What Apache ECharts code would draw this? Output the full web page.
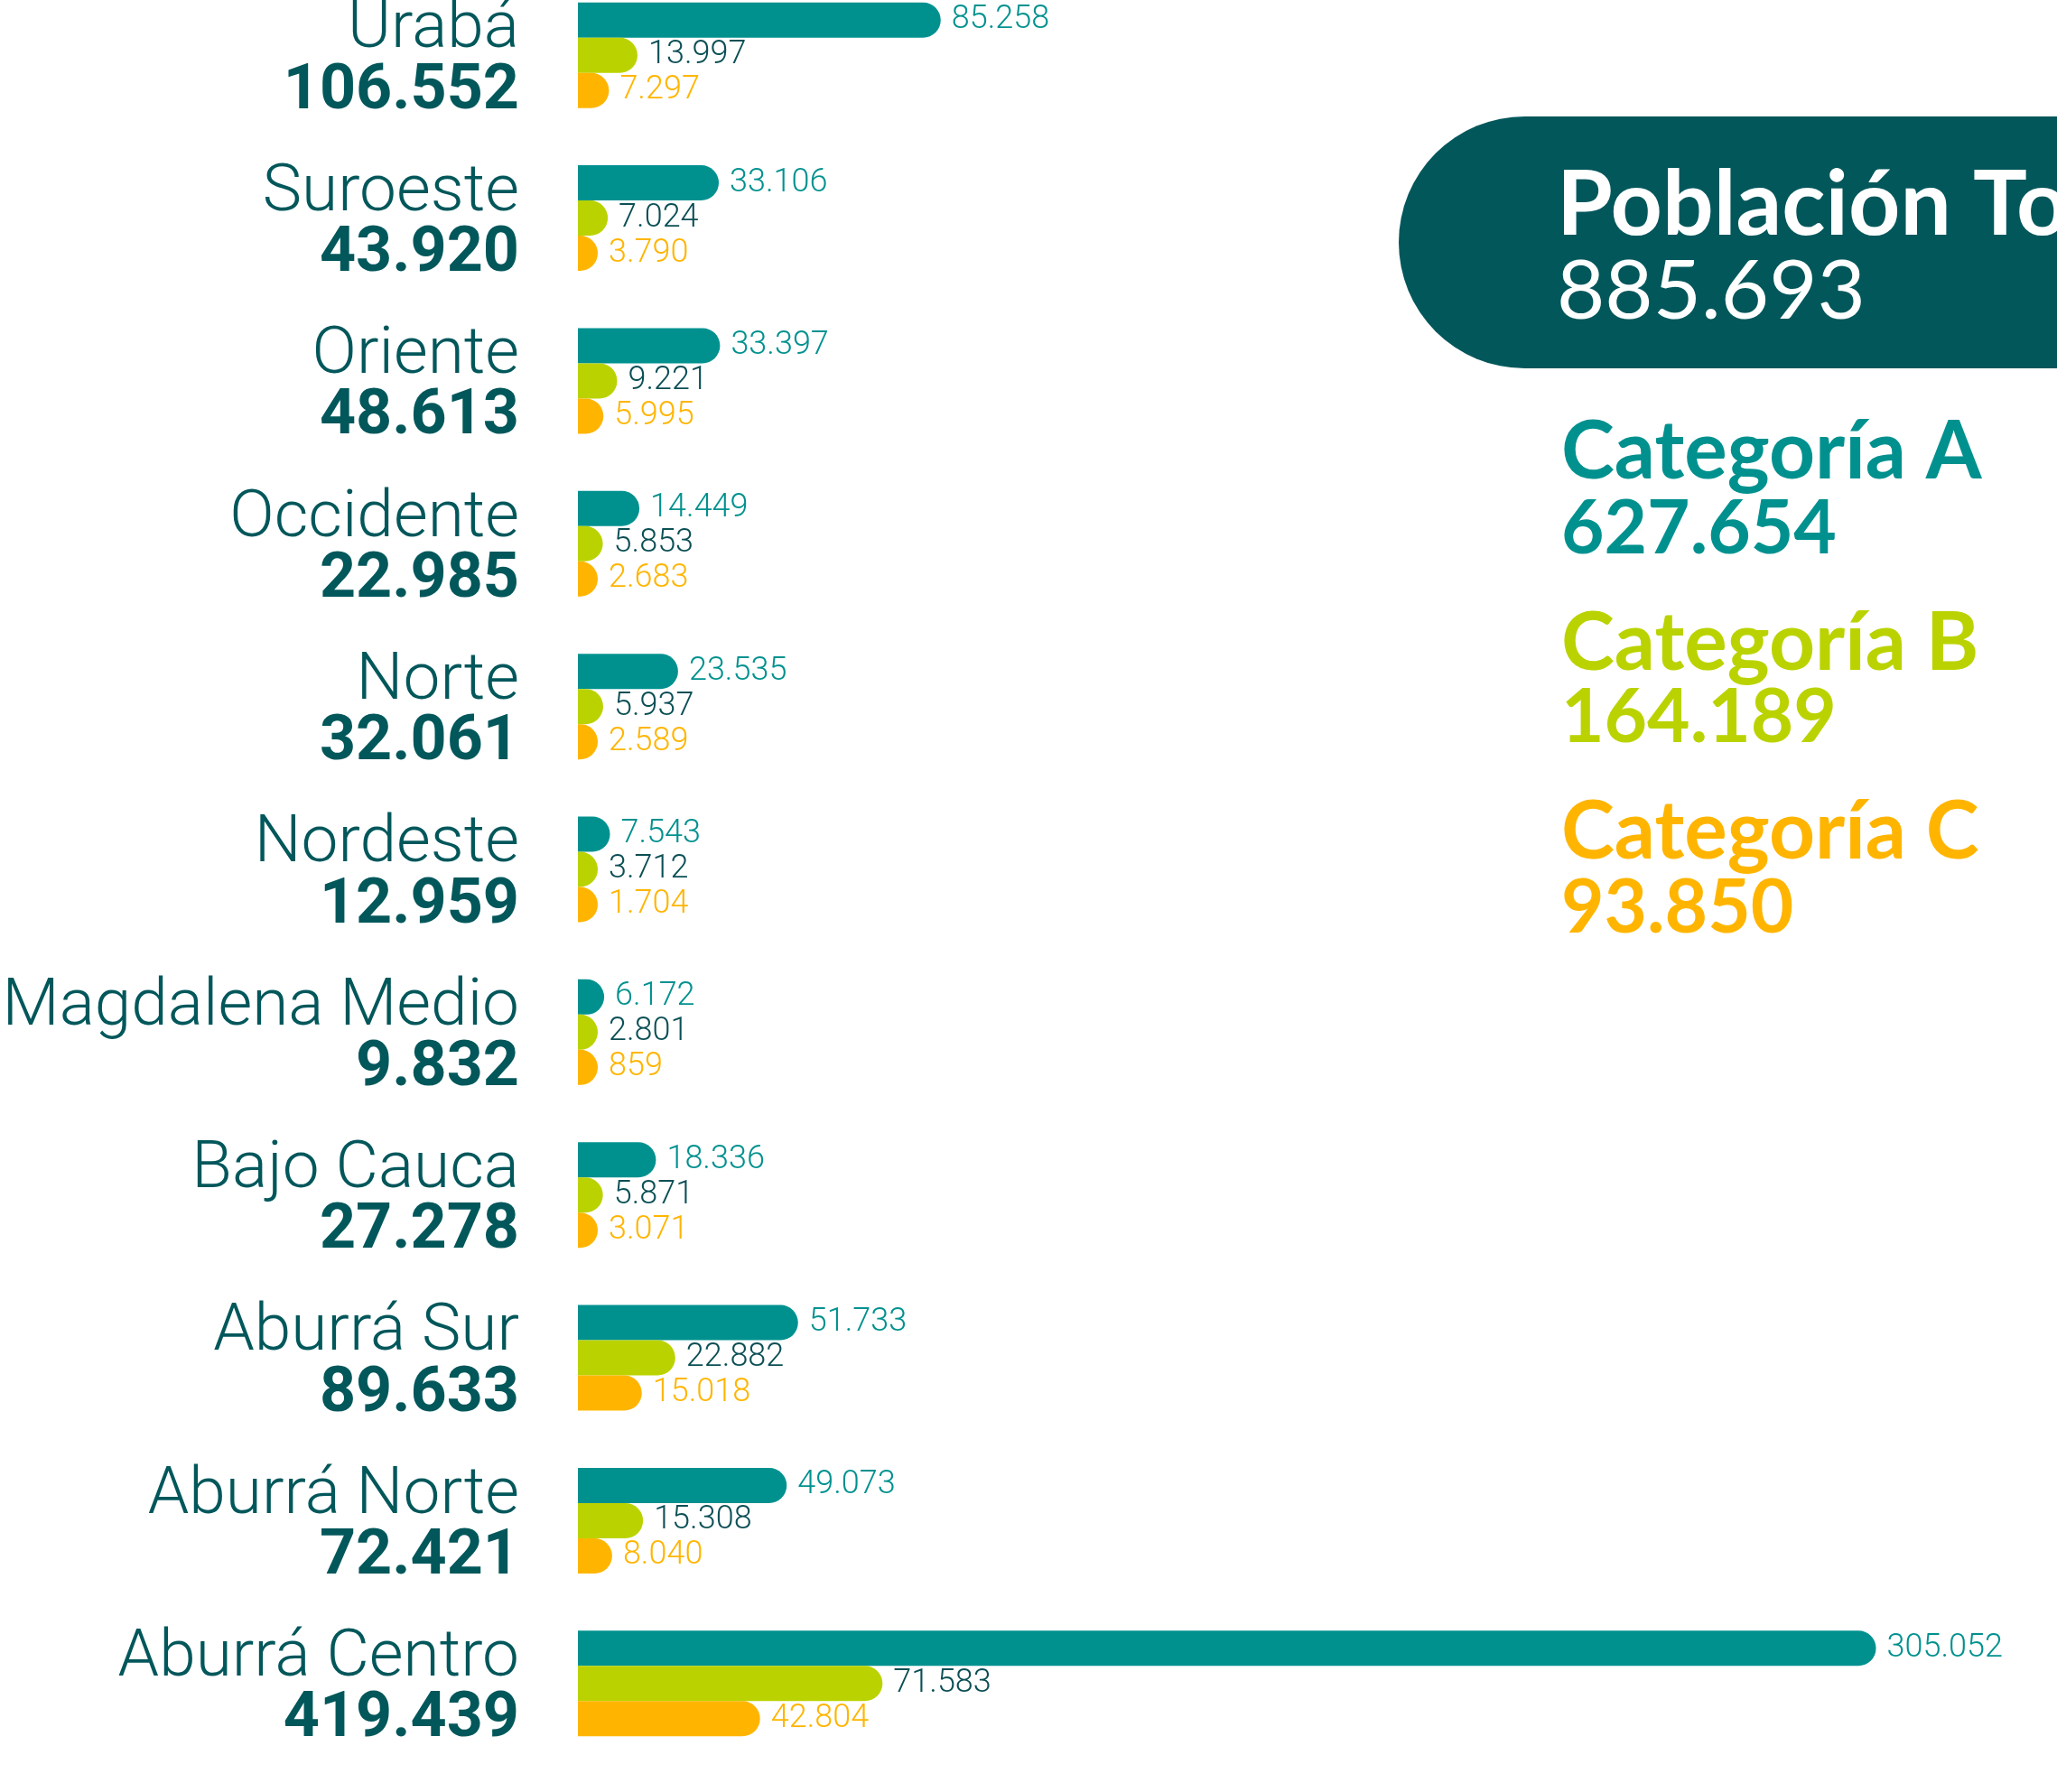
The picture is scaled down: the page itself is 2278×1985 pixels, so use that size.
<!DOCTYPE html>
<html>
<head>
<meta charset="utf-8">
<script src="https://cdn.jsdelivr.net/npm/echarts@6/dist/echarts.min.js"></script>
<style>
  html, body { margin: 0; padding: 0; background: #fff; }
  #chart { width: 2278px; height: 1985px; }
</style>
</head>
<body>
<div id="chart"></div>
<script>
  var regions = ['Urabá', 'Suroeste', 'Oriente', 'Occidente', 'Norte', 'Nordeste',
    'Magdalena Medio', 'Bajo Cauca', 'Aburrá Sur', 'Aburrá Norte', 'Aburrá Centro']
  var catA = [85258, 33106, 33397, 14449, 23535, 7543, 6172, 18336, 51733, 49073, 305052]
  var catB = [13997, 7024, 9221, 5853, 5937, 3712, 2801, 5871, 22882, 15308, 71583]
  var catC = [7297, 3790, 5995, 2683, 2589, 1704, 859, 3071, 15018, 8040, 42804]
  var seriesNames = ['Categoría A', 'Categoría B', 'Categoría C']
  var totalTitle = 'Población Total'

  var colors = ['#00918f', '#bad300', '#ffb500']
  var labelColors = ['#00918f', '#0b4f55', '#ffb500']
  var dark = '#02575b'

  // 85258 -> 85.258
  function fmt(v) {
    return String(v).replace(/\B(?=(\d{3})+(?!\d))/g, '.')
  }
  function sum(arr) {
    var s = 0
    for (var i = 0; i < arr.length; i++) s += arr[i]
    return s
  }

  var regionTotal = []
  for (var i = 0; i < regions.length; i++) {
    regionTotal.push(catA[i] + catB[i] + catC[i])
  }
  var data = [catA, catB, catC]

  var series = []
  for (var k = 0; k < 3; k++) {
    series.push({
      name: seriesNames[k],
      type: 'bar',
      data: data[k],
      barWidth: 39,
      barGap: '0%',
      barMinHeight: 22,
      itemStyle: {
        color: colors[k],
        borderRadius: [0, 20, 20, 0]
      },
      label: {
        show: true,
        position: 'right',
        distance: 12,
        color: labelColors[k],
        fontFamily: 'Roboto',
        fontWeight: 300,
        fontSize: 36,
        formatter: function (p) {
          return fmt(p.value)
        }
      }
    })
  }

  var chart = echarts.init(document.getElementById('chart'))
  chart.setOption({
    animation: false,
    backgroundColor: '#fff',
    grid: {
      left: 640,
      right: 130,
      top: -29,
      bottom: 30,
      containLabel: false,
      outerBoundsMode: 'none'
    },
    xAxis: {
      type: 'value',
      min: 0,
      max: 320000,
      show: false
    },
    yAxis: {
      type: 'category',
      inverse: true,
      data: regions,
      axisLine: { show: false },
      axisTick: { show: false },
      axisLabel: {
        margin: 65,
        align: 'right',
        padding: [12, 0, 0, 0],
        formatter: function (value, idx) {
          return '{n|' + value + '}\n{t|' + fmt(regionTotal[idx]) + '}'
        },
        rich: {
          n: {
            fontFamily: 'Roboto',
            fontWeight: 300,
            fontSize: 73,
            lineHeight: 70,
            color: dark,
            align: 'right'
          },
          t: {
            fontFamily: 'Roboto',
            fontWeight: 'bold',
            fontSize: 70,
            lineHeight: 66,
            color: dark,
            align: 'right'
          }
        }
      }
    },
    series: series,
    graphic: [
      {
        type: 'rect',
        x: 1549,
        y: 129,
        shape: { width: 900, height: 279, r: 139.5 },
        style: { fill: dark }
      },
      {
        type: 'text',
        x: 1724,
        y: 228,
        style: { text: totalTitle, fill: '#fff', font: 'bold 100px Lato', verticalAlign: 'middle' }
      },
      {
        type: 'text',
        x: 1724,
        y: 323,
        style: { text: fmt(sum(regionTotal)), fill: '#fff', font: '92px Lato', verticalAlign: 'middle' }
      },
      {
        type: 'text',
        x: 1729,
        y: 501,
        style: { text: seriesNames[0], fill: colors[0], font: 'bold 89px Lato', verticalAlign: 'middle' }
      },
      {
        type: 'text',
        x: 1729,
        y: 587,
        style: { text: fmt(sum(catA)), fill: colors[0], font: 'bold 82px Lato', verticalAlign: 'middle' }
      },
      {
        type: 'text',
        x: 1729,
        y: 713,
        style: { text: seriesNames[1], fill: colors[1], font: 'bold 89px Lato', verticalAlign: 'middle' }
      },
      {
        type: 'text',
        x: 1729,
        y: 796,
        style: { text: fmt(sum(catB)), fill: colors[1], font: 'bold 82px Lato', verticalAlign: 'middle' }
      },
      {
        type: 'text',
        x: 1729,
        y: 922,
        style: { text: seriesNames[2], fill: colors[2], font: 'bold 89px Lato', verticalAlign: 'middle' }
      },
      {
        type: 'text',
        x: 1729,
        y: 1007,
        style: { text: fmt(sum(catC)), fill: colors[2], font: 'bold 82px Lato', verticalAlign: 'middle' }
      }
    ]
  })
  window.addEventListener('resize', function () {
    chart.resize()
  })
</script>
</body>
</html>
